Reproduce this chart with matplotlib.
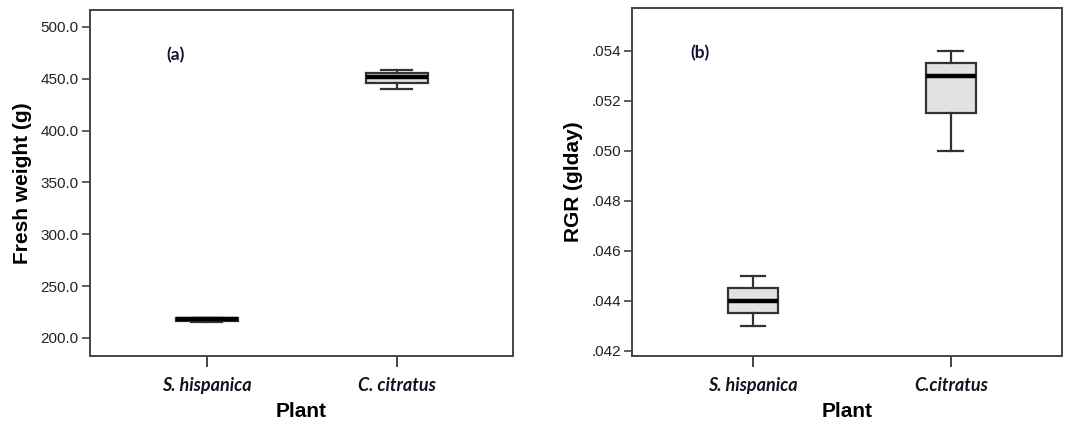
import numpy as np
import matplotlib
matplotlib.use("Agg")
import matplotlib.pyplot as plt

# values
plants_a = ["S. hispanica", "C. citratus"]
plants_b = ["S. hispanica", "C.citratus"]

# fresh weight (g): whisker low, q1, median, q3, whisker high
fw_low = [215.5, 440.0]
fw_q1 = [216.5, 446.0]
fw_med = [218.0, 452.0]
fw_q3 = [219.0, 455.5]
fw_high = [219.5, 458.5]

# RGR (g/day)
rgr_low = [0.0430, 0.0500]
rgr_q1 = [0.0435, 0.0515]
rgr_med = [0.0440, 0.0530]
rgr_q3 = [0.0445, 0.0535]
rgr_high = [0.0450, 0.0540]

fw_ticks = [200, 250, 300, 350, 400, 450, 500]
rgr_ticks = [0.042, 0.044, 0.046, 0.048, 0.050, 0.052, 0.054]

plt.rcParams['font.family'] = ['Liberation Sans', 'DejaVu Sans']

edge = '#333333'
fill = '#e2e2e2'


def make_stats(lo, q1, med, q3, hi):
    return [dict(whislo=a, q1=b, med=c, q3=d, whishi=e, fliers=[])
            for a, b, c, d, e in zip(lo, q1, med, q3, hi)]


def draw_panel(ax, stats, width, labels, ylabel, tag):
    ax.bxp(stats, positions=[1, 2], widths=width, patch_artist=True,
           showfliers=False,
           boxprops=dict(facecolor=fill, edgecolor=edge, linewidth=1.6),
           medianprops=dict(color='black', linewidth=3.2),
           whiskerprops=dict(color=edge, linewidth=1.6),
           capprops=dict(color=edge, linewidth=1.6),
           capwidths=width / 2)
    for s in ax.spines.values():
        s.set_color('#444444')
        s.set_linewidth(1.4)
    ax.set_xticks([1, 2])
    ax.set_xticklabels(labels, family=['Lato', 'DejaVu Sans'], fontweight='bold',
                       fontstyle='italic', fontsize=13, color='#111122')
    ax.tick_params(axis='x', length=8, width=1.4, color='#444444', pad=7)
    ax.tick_params(axis='y', length=6, width=1.2, color='#444444', labelsize=11,
                   labelcolor='#222222', pad=2)
    ax.set_ylabel(ylabel, fontsize=15, fontweight='bold', labelpad=6)
    ax.set_xlabel('Plant', fontsize=15, fontweight='bold', labelpad=6)
    ax.text(tag[1], tag[2], tag[0], transform=ax.transAxes,
            family=['Lato', 'DejaVu Sans'], fontweight='bold', fontsize=12.5,
            color='#111133', va='center', ha='left')


fig = plt.figure(figsize=(10.66, 4.21), dpi=100)
ax1 = fig.add_axes([0.0844, 0.1544, 0.3968, 0.8219])
ax2 = fig.add_axes([0.5929, 0.1544, 0.4034, 0.8266])

draw_panel(ax1, make_stats(fw_low, fw_q1, fw_med, fw_q3, fw_high), 0.326,
           plants_a, 'Fresh weight (g)', ('(a)', 0.18, 0.87))
ax1.set_xlim(0.385, 2.61)
ax1.set_ylim(182.6, 516.4)
ax1.set_yticks(fw_ticks)
ax1.set_yticklabels([f"{v:.1f}" for v in fw_ticks])

draw_panel(ax2, make_stats(rgr_low, rgr_q1, rgr_med, rgr_q3, rgr_high), 0.25,
           plants_b, 'RGR (glday)', ('(b)', 0.135, 0.87))
ax2.set_xlim(0.389, 2.562)
ax2.set_ylim(0.04179, 0.05571)
ax2.set_yticks(rgr_ticks)
ax2.set_yticklabels([f"{v:.3f}"[1:] for v in rgr_ticks])

fig.savefig('out.png', dpi=100)
